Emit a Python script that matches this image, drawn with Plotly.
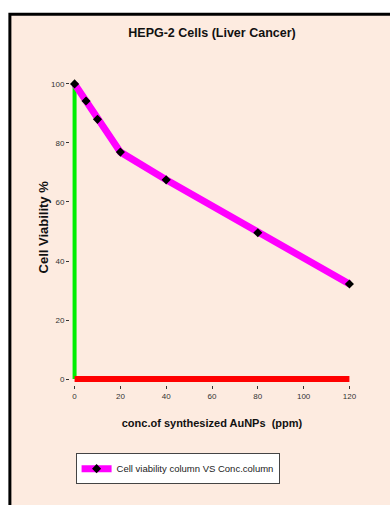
import plotly.graph_objects as go

conc = [0, 5, 10, 20, 40, 80, 120]
viability = [100, 94.2, 88.0, 76.9, 67.5, 49.6, 32.2]
x_ticks = [0, 20, 40, 60, 80, 100, 120]
y_ticks = [0, 20, 40, 60, 80, 100]

X_RANGE = [-2, 122]
Y_RANGE = [-2, 102]
FONT = "Liberation Sans, Arial, sans-serif"

fig = go.Figure()
# green vertical baseline at x=0
fig.add_trace(go.Scatter(x=[0, 0], y=[0, 100], mode="lines",
                         line=dict(color="#00EE00", width=4),
                         showlegend=False, hoverinfo="skip"))
# red horizontal baseline at y=0
fig.add_trace(go.Scatter(x=[0, 120], y=[0, 0], mode="lines",
                         line=dict(color="#FF0000", width=6),
                         showlegend=False, hoverinfo="skip"))
fig.add_trace(go.Scatter(x=conc, y=viability, mode="lines+markers",
                         name="Cell viability column VS Conc.column",
                         line=dict(color="#FF00FF", width=7),
                         marker=dict(symbol="diamond", size=7, color="black")))

# plot-area geometry: x=0 at 75px, x=120 at 349px; y=0 at 379px, y=100 at 84px
sx = (349 - 75) / 120
sy = (379 - 84) / 100
left_px = 75 + X_RANGE[0] * sx
right_px = 75 + X_RANGE[1] * sx
bottom_px = 379 - Y_RANGE[0] * sy
top_px = 379 - Y_RANGE[1] * sy
L, R, T, B = left_px, 390 - right_px, top_px, 505 - bottom_px
W, H = right_px - left_px, bottom_px - top_px

def px_x(p):
    return (p - left_px) / W

def px_y(p):
    return (bottom_px - p) / H

fig.add_shape(type="rect", xref="paper", yref="paper",
              x0=px_x(10.5), x1=px_x(400), y0=px_y(520), y1=px_y(14.5),
              fillcolor="#FDEBE0", line=dict(color="black", width=3), layer="below")

fig.add_annotation(text="<b>Cell Viability %</b>", xref="paper", yref="paper",
                   x=px_x(45), y=px_y(227), textangle=-90, showarrow=False,
                   xanchor="center", yanchor="middle",
                   font=dict(size=13, color="#111", family=FONT))

fig.update_layout(
    width=390, height=505,
    margin=dict(l=L, r=R, t=T, b=B, autoexpand=False),
    paper_bgcolor="white", plot_bgcolor="rgba(0,0,0,0)",
    font=dict(family=FONT, color="#222"),
    title=dict(text="<b>HEPG-2 Cells (Liver Cancer)</b>", x=212 / 390, xanchor="center",
               y=1 - 33 / 505, yanchor="middle",
               font=dict(size=12.5, color="#111")),
    xaxis=dict(range=X_RANGE, tickvals=x_ticks, showgrid=False, zeroline=False,
               showline=False, ticks="outside", ticklen=3, tickcolor="#333",
               tickfont=dict(size=8, color="#333"),
               title=dict(text="<b>conc.of synthesized AuNPs  (ppm)</b>",
                          font=dict(size=11, color="#111"), standoff=19)),
    yaxis=dict(range=Y_RANGE, tickvals=y_ticks, showgrid=False, zeroline=False,
               showline=False, ticks="outside", ticklen=3, tickcolor="#333",
               tickfont=dict(size=8, color="#333")),
    legend=dict(x=px_x(76), y=px_y(453), xanchor="left", yanchor="top",
                bgcolor="white", bordercolor="#444", borderwidth=1,
                itemwidth=30, font=dict(size=9.5, color="#222")),
)

fig.write_html("out.html")
